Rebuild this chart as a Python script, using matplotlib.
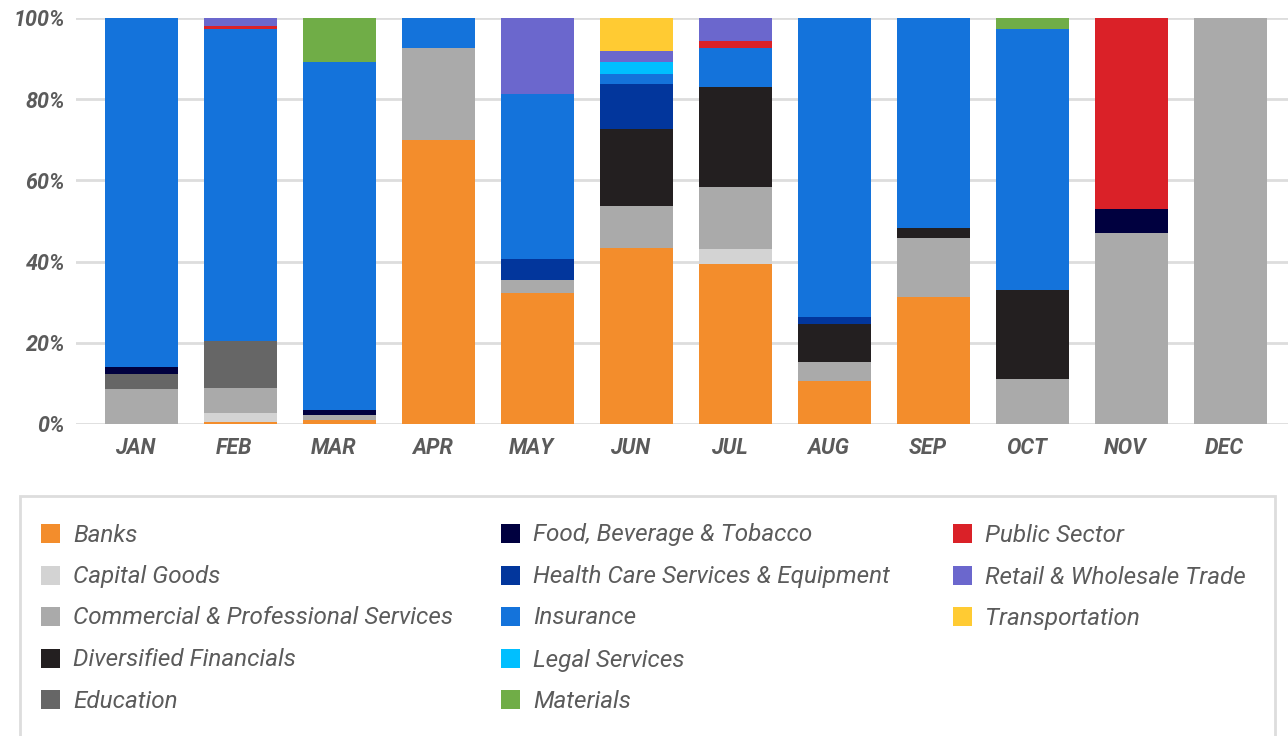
import matplotlib
matplotlib.use("Agg")
import matplotlib.pyplot as plt
from matplotlib.patches import Rectangle
from matplotlib.transforms import ScaledTranslation
import numpy as np

plt.rcParams['font.family'] = ['Roboto', 'DejaVu Sans']

months = ["JAN", "FEB", "MAR", "APR", "MAY", "JUN", "JUL", "AUG", "SEP", "OCT", "NOV", "DEC"]

# share of each sector per month, in percent (bottom to top)
banks          = [0, 0.6, 1.1, 70.0, 32.3, 43.4, 39.5, 10.6, 31.3, 0, 0, 0]
capital_goods  = [0, 2.1, 0, 0, 0, 0, 3.6, 0, 0, 0, 0, 0]
commercial     = [8.6, 6.2, 1.1, 22.5, 3.2, 10.3, 15.3, 4.7, 14.5, 11.1, 47.0, 100.0]
diversified    = [0, 0, 0, 0, 0, 19.0, 24.6, 9.3, 2.5, 21.9, 0, 0]
education      = [3.7, 11.5, 0, 0, 0, 0, 0, 0, 0, 0, 0, 0]
food_bev       = [1.7, 0, 1.2, 0, 0, 0, 0, 0, 0, 0, 6.0, 0]
health_care    = [0, 0, 0, 0, 5.1, 11.0, 0, 1.8, 0, 0, 0, 0]
insurance      = [86.0, 76.9, 85.8, 7.5, 40.7, 2.5, 9.7, 73.6, 51.7, 64.3, 0, 0]
legal          = [0, 0, 0, 0, 0, 3.0, 0, 0, 0, 0, 0, 0]
materials      = [0, 0, 10.8, 0, 0, 0, 0, 0, 0, 2.7, 0, 0]
public_sector  = [0, 0.7, 0, 0, 0, 0, 1.6, 0, 0, 0, 47.0, 0]
retail         = [0, 2.0, 0, 0, 18.7, 2.7, 5.7, 0, 0, 0, 0, 0]
transportation = [0, 0, 0, 0, 0, 8.1, 0, 0, 0, 0, 0, 0]

series = [
    ("Banks", banks, "#f38d2c"),
    ("Capital Goods", capital_goods, "#d3d3d3"),
    ("Commercial & Professional Services", commercial, "#aaaaaa"),
    ("Diversified Financials", diversified, "#231f20"),
    ("Education", education, "#666666"),
    ("Food, Beverage & Tobacco", food_bev, "#00003f"),
    ("Health Care Services & Equipment", health_care, "#02369c"),
    ("Insurance", insurance, "#1473db"),
    ("Legal Services", legal, "#00bfff"),
    ("Materials", materials, "#70ad47"),
    ("Public Sector", public_sector, "#da2128"),
    ("Retail & Wholesale Trade", retail, "#6b67cd"),
    ("Transportation", transportation, "#ffcb33"),
]

W, H = 1288, 736
fig = plt.figure(figsize=(W / 100, H / 100), dpi=100)
ax = fig.add_axes([76 / W, 1 - 424 / H, 1 - 76 / W, (424 - 18) / H])

x = np.arange(len(months))
bottom = np.zeros(len(months))
for name, vals, col in series:
    v = np.array(vals, dtype=float)
    ax.bar(x, v, 0.74, bottom=bottom, color=col, linewidth=0, zorder=2)
    bottom += v

ax.set_xlim(-0.66, 11.58)
ax.set_ylim(0, 100)
ax.set_yticks([0, 20, 40, 60, 80, 100])
ax.set_yticklabels(["0%", "20%", "40%", "60%", "80%", "100%"])
ax.set_xticks(x)
ax.set_xticklabels(months)
ax.grid(axis="y", color="#dddddd", linewidth=2, zorder=0)
ax.set_axisbelow(True)
for s in ax.spines.values():
    s.set_visible(False)
ax.tick_params(length=0, labelcolor="#5b5b5b")
ax.tick_params(axis="y", pad=8)
ax.tick_params(axis="x", pad=9)
for lab in ax.get_xticklabels() + ax.get_yticklabels():
    lab.set_fontsize(15.5)
    lab.set_fontweight("bold")
    lab.set_fontstyle("italic")
shift = ScaledTranslation(-6 / 100, 0, fig.dpi_scale_trans)
for lab in ax.get_xticklabels():
    lab.set_transform(lab.get_transform() + shift)

# legend box
fig.patches.append(Rectangle((20 / W, -0.05), (1275 - 20) / W, 0.05 + 1 - 496 / H,
                             transform=fig.transFigure, facecolor="white",
                             edgecolor="#dddddd", linewidth=2))
columns = [series[0:5], series[5:10], series[10:13]]
col_x = [41, 501, 953]
row_y = [533, 575, 616, 658, 699]
for cx, items in zip(col_x, columns):
    for ry, (name, _, col) in zip(row_y, items):
        fig.patches.append(Rectangle((cx / W, 1 - (ry + 9.5) / H), 19 / W, 19 / H,
                                     transform=fig.transFigure, facecolor=col,
                                     edgecolor="none"))
        fig.text((cx + 32) / W, 1 - (ry + 2) / H, name, fontsize=17.5, fontstyle="italic",
                 color="#5b5b5b", va="center", ha="left")

fig.savefig("out.png", dpi=100)
